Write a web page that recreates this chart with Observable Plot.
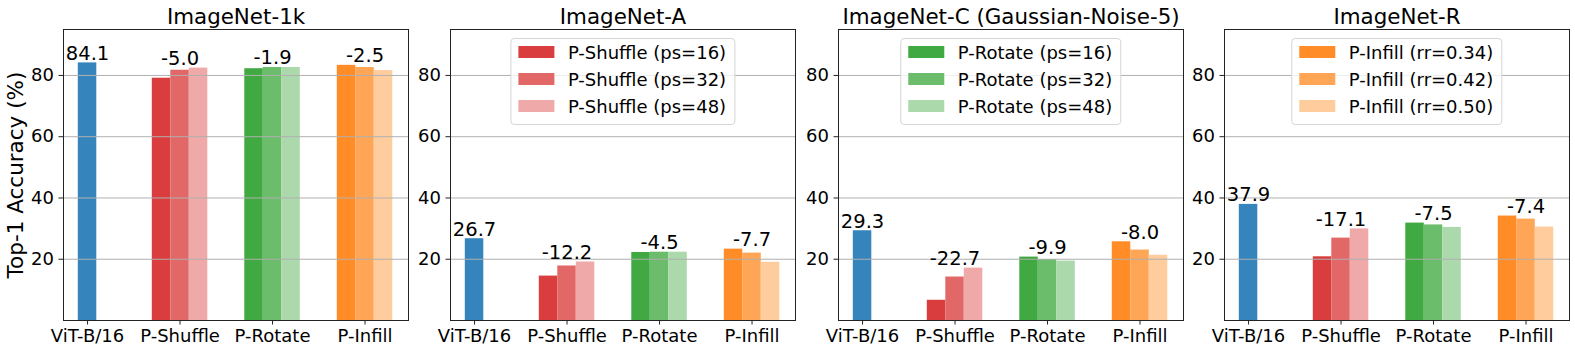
<!DOCTYPE html>
<html><head><meta charset="utf-8">
<script src="https://cdn.jsdelivr.net/npm/d3@7"></script>
<script src="https://cdn.jsdelivr.net/npm/@observablehq/plot@0.6"></script>
<style>
body{margin:0;background:#fff;}
#chart{position:relative;width:1575px;height:352px;font-family:"DejaVu Sans",sans-serif;overflow:hidden;background:#fff}
.panel{position:absolute;top:0}
.legend{position:absolute;top:37.7px;transform:translateX(-50%);background:rgba(255,255,255,0.8);border:1px solid #d5d5d5;border-radius:4px;padding:0 8px 4px 7px;font-size:18px;white-space:nowrap;box-sizing:border-box;color:#000}
.row{display:flex;align-items:center;height:27px}
.sw{width:36px;height:12.4px;margin-right:14px;flex:none}
</style></head><body><div id="chart"></div>
<script>
// ---- data ----
const categories = ["ViT-B/16", "P-Shuffle", "P-Rotate", "P-Infill"];
const datasets = ["ImageNet-1k", "ImageNet-A", "ImageNet-C (Gaussian-Noise-5)", "ImageNet-R"];
const baseline = [84.1, 26.7, 29.3, 37.9];
const shuffle = [[79.1, 81.7, 82.4], [14.5, 17.8, 19.1], [6.6, 14.2, 17.1], [20.8, 26.9, 29.9]];
const rotate  = [[82.2, 82.6, 82.6], [22.2, 22.3, 22.3], [20.7, 19.9, 19.4], [31.8, 31.2, 30.4]];
const infill  = [[83.3, 82.6, 81.6], [23.3, 22.0, 19.0], [25.7, 23.0, 21.3], [34.1, 33.1, 30.5]];
const shuffleLabels = ["P-Shuffle (ps=16)", "P-Shuffle (ps=32)", "P-Shuffle (ps=48)"];
const rotateLabels  = ["P-Rotate (ps=16)", "P-Rotate (ps=32)", "P-Rotate (ps=48)"];
const infillLabels  = ["P-Infill (rr=0.34)", "P-Infill (rr=0.42)", "P-Infill (rr=0.50)"];
const yTicks = [20, 40, 60, 80];
const yLabel = "Top-1 Accuracy (%)";
// which panel shows which legend (panel index -> method index)
const legendPanels = [null, 0, 1, 2];

// ---- styles ----
const baseColor = "#3584bc";
const methodColors = [
  ["#da3d3d", "#e26868", "#efa9a9"],
  ["#41a941", "#6bbc6b", "#abd9ab"],
  ["#ff8c26", "#ffa556", "#ffcc9e"]
];
const methods = [
  {values: shuffle, labels: shuffleLabels, colors: methodColors[0]},
  {values: rotate, labels: rotateLabels, colors: methodColors[1]},
  {values: infill, labels: infillLabels, colors: methodColors[2]}
];

const ML = 60, MR = 6, MT = 29, MB = 32, FW = 345, H = 352;
const frameLefts = [63, 450, 838, 1224];
const BW = 0.2;

const chart = document.getElementById("chart");

function panel(p) {
  const rows = [{k: 0, off: 0, v: baseline[p], fill: baseColor}];
  methods.forEach((m, mi) => m.values[p].forEach((v, j) =>
    rows.push({k: mi + 1, off: (j - 1) * BW, v, fill: m.colors[j]})));
  const labels = [{k: 0, v: baseline[p], t: baseline[p].toFixed(1)}].concat(
    methods.map((m, mi) => ({k: mi + 1, v: d3.max(m.values[p]),
      t: (Math.round((d3.min(m.values[p]) - baseline[p]) * 10) / 10).toFixed(1)})));
  const marks = [
    Plot.rectY(rows, {x1: d => d.k + d.off - BW / 2, x2: d => d.k + d.off + BW / 2, y1: 0, y2: "v", fill: "fill"}),
    Plot.gridY(yTicks, {stroke: "#b0b0b0", strokeOpacity: 1, strokeWidth: 1}),
    Plot.frame({stroke: "#222", strokeWidth: 1}),
    Plot.axisY(yTicks, {tickSize: 4.5, tickPadding: 5, fontSize: 18, label: null, stroke: "#222", fill: "#000"}),
    Plot.axisX(d3.range(categories.length), {tickFormat: i => categories[i], tickSize: 4.5, tickPadding: 4.5, fontSize: 18, label: null, stroke: "#222", fill: "#000"}),
    Plot.text(labels, {x: "k", y: "v", text: "t", lineAnchor: "bottom", dy: -3, fontSize: 19.5, fill: "#000"}),
    Plot.text([datasets[p]], {frameAnchor: "top", lineAnchor: "bottom", dy: -6, fontSize: 21.4, fill: "#000"})
  ];
  if (p === 0) marks.push(Plot.text([yLabel], {frameAnchor: "left", rotate: -90, textAnchor: "middle", lineAnchor: "top", dx: -55.5, fontSize: 21.5, fill: "#000"}));
  const svg = Plot.plot({
    width: ML + FW + MR, height: H,
    marginLeft: ML, marginRight: MR, marginTop: MT, marginBottom: MB,
    style: {fontFamily: "DejaVu Sans", background: "transparent", overflow: "visible", color: "#000"},
    x: {type: "linear", domain: [-0.26, 3.47]},
    y: {domain: [0, 95]},
    color: {type: "identity"},
    marks
  });
  svg.classList.add("panel");
  svg.style.left = (frameLefts[p] - ML) + "px";
  chart.appendChild(svg);

  const li = legendPanels[p];
  if (li !== null) {
    const m = methods[li];
    const lg = document.createElement("div");
    lg.className = "legend";
    lg.style.left = (frameLefts[p] + FW / 2) + "px";
    m.labels.forEach((lab, j) => {
      const r = document.createElement("div"); r.className = "row";
      const s = document.createElement("div"); s.className = "sw"; s.style.background = m.colors[j];
      const t = document.createElement("span"); t.textContent = lab;
      r.appendChild(s); r.appendChild(t); lg.appendChild(r);
    });
    chart.appendChild(lg);
  }
}
for (let p = 0; p < datasets.length; p++) panel(p);
</script></body></html>
